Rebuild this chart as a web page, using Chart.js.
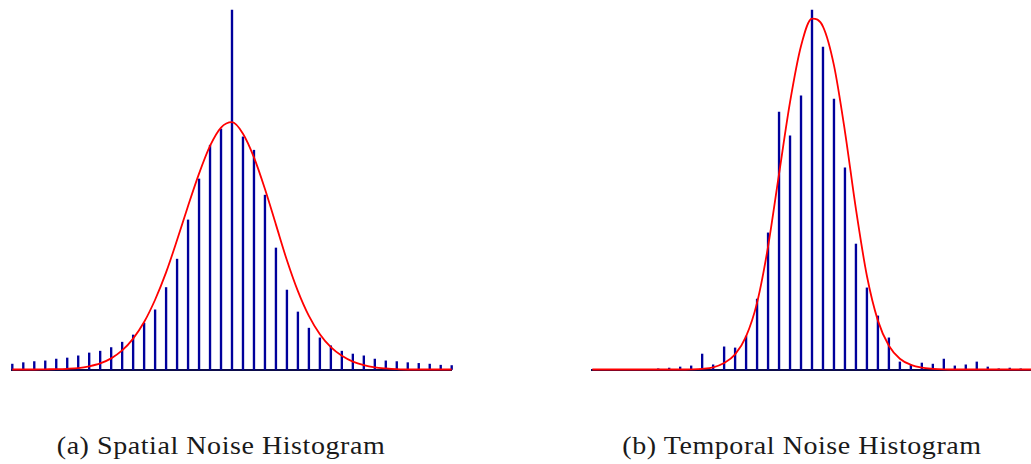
<!DOCTYPE html>
<html>
<head>
<meta charset="utf-8">
<script src="https://cdn.jsdelivr.net/npm/chart.js@4/dist/chart.umd.min.js"></script>
<style>
  html, body { margin: 0; padding: 0; background: #ffffff; }
  body { width: 1031px; height: 464px; position: relative; overflow: hidden; }
  .panel { position: absolute; top: 0; }
  .caption {
    position: absolute; top: 432px; width: 500px; text-align: center;
    font-family: "Liberation Serif", "DejaVu Serif", serif; font-size: 25px;
    letter-spacing: 0.5px; transform: scaleX(1.12); transform-origin: 50% 50%;
    color: #1a1a1a; white-space: nowrap; line-height: 28px;
  }
</style>
</head>
<body>
<div class="panel" style="left:0px"><canvas id="spatial" width="470" height="380"></canvas></div>
<div class="panel" style="left:580px"><canvas id="temporal" width="470" height="380"></canvas></div>
<div class="caption" id="capA" style="left:-29.5px">(a) Spatial Noise Histogram</div>
<div class="caption" id="capB" style="left:551.7px">(b) Temporal Noise Histogram</div>
<script>
// Histogram bins (noise value, in grey levels) shared by both panels
const bins = [-20,-19,-18,-17,-16,-15,-14,-13,-12,-11,-10,-9,-8,-7,-6,-5,-4,-3,-2,-1,0,
              1,2,3,4,5,6,7,8,9,10,11,12,13,14,15,16,17,18,19,20];

// Spatial noise: relative frequency (% of the modal bin) and fitted normal curve
const spatialCounts = [1.5,1.9,2.2,2.4,2.9,3.2,3.8,4.6,5.1,6.1,
                       7.6,9.6,12.9,16.6,22.8,30.7,41.6,53.0,62.4,66.9,
                       100,
                       64.7,61.0,48.5,33.8,22.1,16.0,11.5,8.8,6.6,5.1,
                       4.3,3.8,2.9,2.4,2.2,1.9,1.7,1.5,1.2,1.1];
const spatialFit = [0,0,0,0.05,0.1,0.2,0.4,0.9,1.7,3.1,
                    5.3,8.6,13.2,19.4,27.0,36.0,45.5,54.5,62.2,67.3,
                    68.8,
                    65.6,59.0,50.2,40.3,30.4,21.8,14.9,9.8,6.2,3.8,
                    2.2,1.2,0.6,0.3,0.1,0,0,0,0,0];

// Temporal noise: relative frequency (% of the modal bin) and fitted normal curve
const temporalCounts = [0,0,0,0,0,0,0.2,0.4,0.7,1.0,
                        4.3,1.3,6.3,6.0,9.3,19.6,38.0,71.6,65.0,76.1,
                        100,
                        89.7,75.2,56.1,34.9,22.7,14.9,8.8,2.1,1.3,1.8,
                        1.5,2.9,1.0,1.3,2.1,0.7,0.2,0.4,0.2,0];
const temporalFit = [0,0,0,0,0,0,0,0,0,0.05,
                     0.2,0.6,1.8,4.2,9.2,18.6,34.2,54.4,74.4,90.0,
                     97.6,
                     95.4,84.6,66.2,44.6,26.0,13.6,6.6,3.0,1.3,0.5,
                     0.2,0.05,0,0,0,0,0,0,0,0];

const STEM_COLOR = '#00009c';
const FIT_COLOR = '#ff0000';
const AXIS_COLOR = '#0b0b4a';

function histogram(canvasId, counts, fit) {
  return new Chart(document.getElementById(canvasId), {
    data: {
      labels: bins,
      datasets: [
        {
          type: 'line',
          data: fit,
          borderColor: FIT_COLOR,
          borderWidth: 1.8,
          pointRadius: 0,
          cubicInterpolationMode: 'monotone',
          fill: false,
          order: 0,
          clip: false
        },
        {
          type: 'bar',
          data: counts,
          backgroundColor: STEM_COLOR,
          borderWidth: 0,
          barThickness: 1.7,
          order: 1,
          clip: false
        }
      ]
    },
    options: {
      responsive: false,
      animation: false,
      devicePixelRatio: 1,
      layout: { padding: { left: 12.3, right: 18.3, top: 10, bottom: 10.5 } },
      plugins: { legend: { display: false }, tooltip: { enabled: false }, title: { display: false } },
      scales: {
        x: {
          type: 'category',
          offset: false,
          grid: { display: false, drawTicks: false },
          ticks: { display: false },
          border: { display: true, color: AXIS_COLOR, width: 2 }
        },
        y: {
          display: false,
          min: 0,
          max: 100
        }
      }
    }
  });
}

histogram('spatial', spatialCounts, spatialFit);
histogram('temporal', temporalCounts, temporalFit);
</script>
</body>
</html>
